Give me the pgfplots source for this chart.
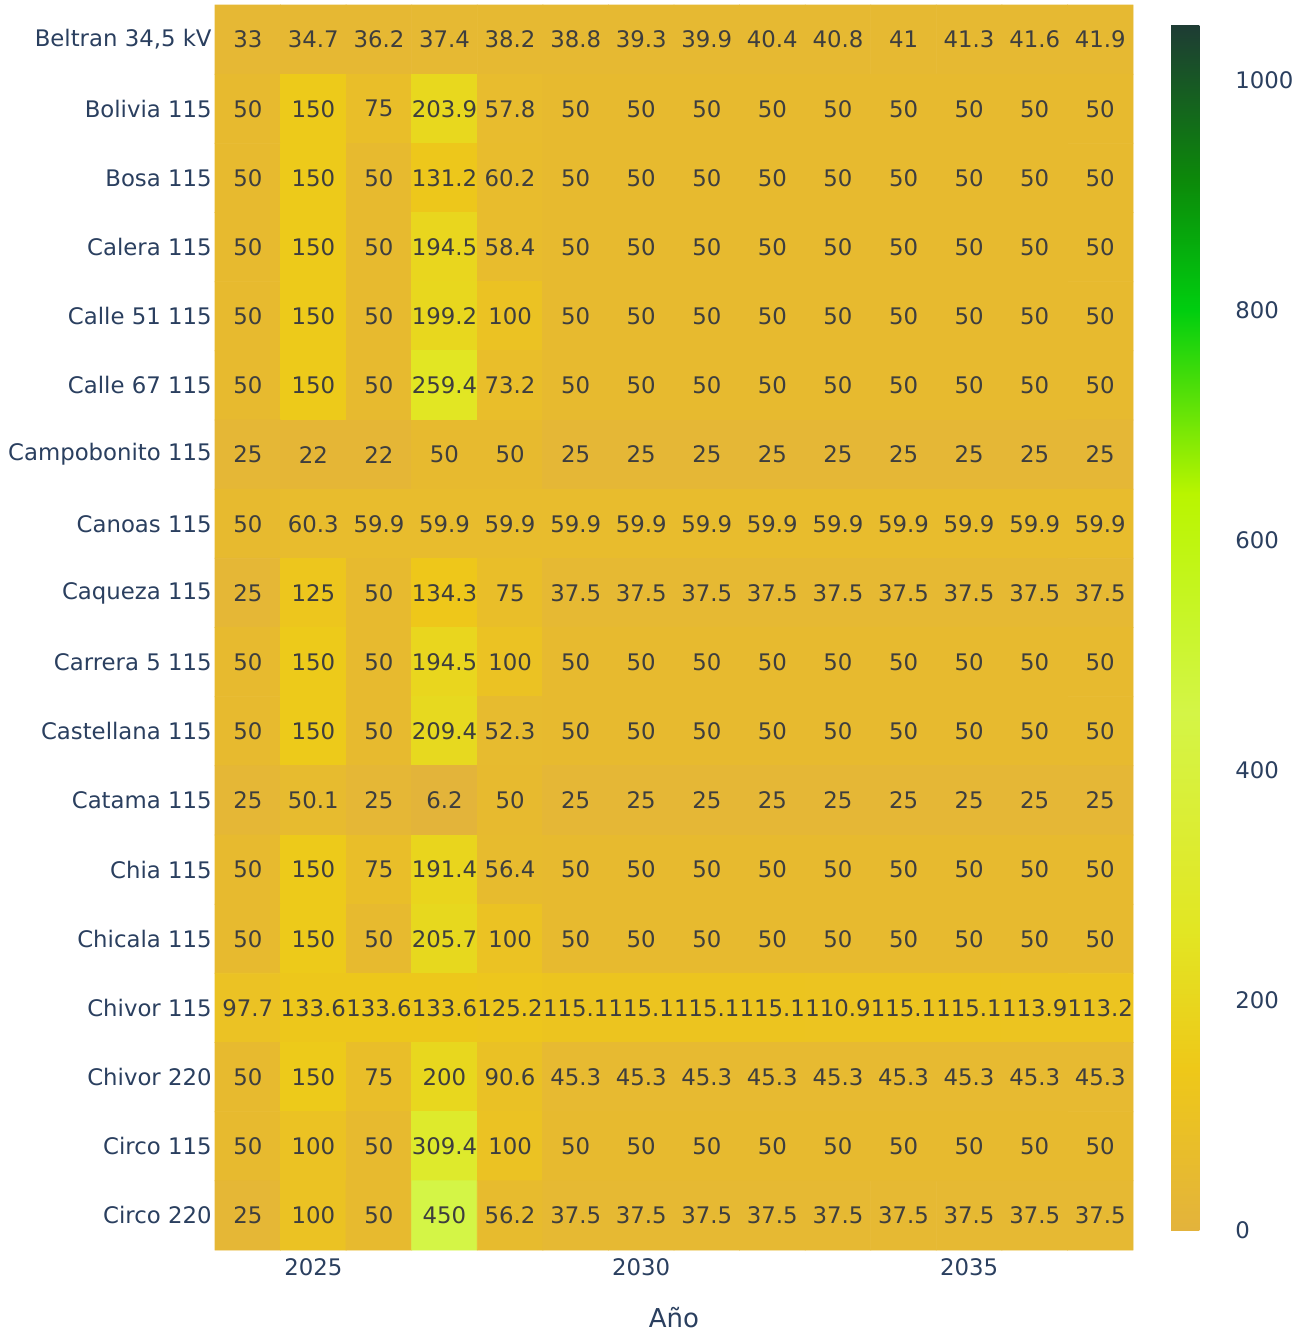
\documentclass[border=0pt]{standalone}
\usepackage{pgfplots}
\pgfplotsset{compat=1.18}
\usepackage{fontspec}
\setmainfont{DejaVu Sans}
\usetikzlibrary{calc}
\definecolor{tickc}{RGB}{42,63,95}
\definecolor{cellc}{RGB}{62,62,62}
\begin{document}
\begin{tikzpicture}
\path[use as bounding box] (0,0) rectangle (652.5bp,665.5bp);
\begin{axis}[
  at={(107.5bp,40.5bp)}, anchor=south west,
  scale only axis, width=459bp, height=622.5bp,
  xmin=-0.5, xmax=13.5, ymin=-0.5, ymax=17.5, y dir=reverse,
  axis line style={draw=none}, major tick length=0pt,
  xtick={1,6,11}, xticklabels={2025,2030,2035},
  ytick={0,...,17},
  yticklabels={Beltran 34{,}5 kV,Bolivia 115,Bosa 115,Calera 115,Calle 51 115,Calle 67 115,Campobonito 115,Canoas 115,Caqueza 115,Carrera 5 115,Castellana 115,Catama 115,Chia 115,Chicala 115,Chivor 115,Chivor 220,Circo 115,Circo 220},
  xticklabel style={anchor=base, inner sep=0pt, yshift=-12.5bp, font=\fontsize{11.4bp}{13bp}\selectfont, text=tickc},
  yticklabel style={anchor=east, inner sep=0pt, xshift=-1.5bp, font=\fontsize{11.4bp}{13bp}\selectfont, text=tickc},
  xlabel={Año},
  xlabel style={at={(axis description cs:0.5,0)}, anchor=base, inner sep=0pt, yshift=-38.5bp, font=\fontsize{13bp}{15bp}\selectfont, text=tickc},
  colormap={plotlyg}{rgb255(0pt)=(227,179,60); rgb255(140pt)=(238,200,25); rgb255(260pt)=(226,230,35); rgb255(450pt)=(212,245,70); rgb255(640pt)=(185,245,0); rgb255(800pt)=(0,206,15); rgb255(915pt)=(12,136,10); rgb255(1048pt)=(30,60,52)},
  point meta min=0, point meta max=1048,
  colorbar,
  colorbar style={
    at={($(parent axis.south east)+(10.5bp,10bp)$)}, anchor=south west,
    scale only axis, width=28bp, height=602.5bp,
    axis line style={draw=none}, major tick length=0pt,
    ytick={0,200,400,600,800,1000},
    yticklabel pos=right,
    yticklabel style={anchor=west, inner sep=0pt, xshift=4bp, font=\fontsize{11.4bp}{13bp}\selectfont, text=tickc},
    /pgf/number format/assume math mode=true,
    /pgf/number format/1000 sep={},
  },
  clip=false,
]
\addplot[matrix plot*, mesh/cols=14, point meta=explicit,
  nodes near coords={\pgfmathprintnumber[fixed,precision=1,assume math mode=true]{\pgfplotspointmeta}},
  every node near coord/.append style={anchor=center, inner sep=0pt, font=\fontsize{11.4bp}{13bp}\selectfont, text=cellc}]
coordinates {
(0,0)[33] (1,0)[34.7] (2,0)[36.2] (3,0)[37.4] (4,0)[38.2] (5,0)[38.8] (6,0)[39.3] (7,0)[39.9] (8,0)[40.4] (9,0)[40.8] (10,0)[41] (11,0)[41.3] (12,0)[41.6] (13,0)[41.9]
(0,1)[50] (1,1)[150] (2,1)[75] (3,1)[203.9] (4,1)[57.8] (5,1)[50] (6,1)[50] (7,1)[50] (8,1)[50] (9,1)[50] (10,1)[50] (11,1)[50] (12,1)[50] (13,1)[50]
(0,2)[50] (1,2)[150] (2,2)[50] (3,2)[131.2] (4,2)[60.2] (5,2)[50] (6,2)[50] (7,2)[50] (8,2)[50] (9,2)[50] (10,2)[50] (11,2)[50] (12,2)[50] (13,2)[50]
(0,3)[50] (1,3)[150] (2,3)[50] (3,3)[194.5] (4,3)[58.4] (5,3)[50] (6,3)[50] (7,3)[50] (8,3)[50] (9,3)[50] (10,3)[50] (11,3)[50] (12,3)[50] (13,3)[50]
(0,4)[50] (1,4)[150] (2,4)[50] (3,4)[199.2] (4,4)[100] (5,4)[50] (6,4)[50] (7,4)[50] (8,4)[50] (9,4)[50] (10,4)[50] (11,4)[50] (12,4)[50] (13,4)[50]
(0,5)[50] (1,5)[150] (2,5)[50] (3,5)[259.4] (4,5)[73.2] (5,5)[50] (6,5)[50] (7,5)[50] (8,5)[50] (9,5)[50] (10,5)[50] (11,5)[50] (12,5)[50] (13,5)[50]
(0,6)[25] (1,6)[22] (2,6)[22] (3,6)[50] (4,6)[50] (5,6)[25] (6,6)[25] (7,6)[25] (8,6)[25] (9,6)[25] (10,6)[25] (11,6)[25] (12,6)[25] (13,6)[25]
(0,7)[50] (1,7)[60.3] (2,7)[59.9] (3,7)[59.9] (4,7)[59.9] (5,7)[59.9] (6,7)[59.9] (7,7)[59.9] (8,7)[59.9] (9,7)[59.9] (10,7)[59.9] (11,7)[59.9] (12,7)[59.9] (13,7)[59.9]
(0,8)[25] (1,8)[125] (2,8)[50] (3,8)[134.3] (4,8)[75] (5,8)[37.5] (6,8)[37.5] (7,8)[37.5] (8,8)[37.5] (9,8)[37.5] (10,8)[37.5] (11,8)[37.5] (12,8)[37.5] (13,8)[37.5]
(0,9)[50] (1,9)[150] (2,9)[50] (3,9)[194.5] (4,9)[100] (5,9)[50] (6,9)[50] (7,9)[50] (8,9)[50] (9,9)[50] (10,9)[50] (11,9)[50] (12,9)[50] (13,9)[50]
(0,10)[50] (1,10)[150] (2,10)[50] (3,10)[209.4] (4,10)[52.3] (5,10)[50] (6,10)[50] (7,10)[50] (8,10)[50] (9,10)[50] (10,10)[50] (11,10)[50] (12,10)[50] (13,10)[50]
(0,11)[25] (1,11)[50.1] (2,11)[25] (3,11)[6.2] (4,11)[50] (5,11)[25] (6,11)[25] (7,11)[25] (8,11)[25] (9,11)[25] (10,11)[25] (11,11)[25] (12,11)[25] (13,11)[25]
(0,12)[50] (1,12)[150] (2,12)[75] (3,12)[191.4] (4,12)[56.4] (5,12)[50] (6,12)[50] (7,12)[50] (8,12)[50] (9,12)[50] (10,12)[50] (11,12)[50] (12,12)[50] (13,12)[50]
(0,13)[50] (1,13)[150] (2,13)[50] (3,13)[205.7] (4,13)[100] (5,13)[50] (6,13)[50] (7,13)[50] (8,13)[50] (9,13)[50] (10,13)[50] (11,13)[50] (12,13)[50] (13,13)[50]
(0,14)[97.7] (1,14)[133.6] (2,14)[133.6] (3,14)[133.6] (4,14)[125.2] (5,14)[115.1] (6,14)[115.1] (7,14)[115.1] (8,14)[115.1] (9,14)[110.9] (10,14)[115.1] (11,14)[115.1] (12,14)[113.9] (13,14)[113.2]
(0,15)[50] (1,15)[150] (2,15)[75] (3,15)[200] (4,15)[90.6] (5,15)[45.3] (6,15)[45.3] (7,15)[45.3] (8,15)[45.3] (9,15)[45.3] (10,15)[45.3] (11,15)[45.3] (12,15)[45.3] (13,15)[45.3]
(0,16)[50] (1,16)[100] (2,16)[50] (3,16)[309.4] (4,16)[100] (5,16)[50] (6,16)[50] (7,16)[50] (8,16)[50] (9,16)[50] (10,16)[50] (11,16)[50] (12,16)[50] (13,16)[50]
(0,17)[25] (1,17)[100] (2,17)[50] (3,17)[450] (4,17)[56.2] (5,17)[37.5] (6,17)[37.5] (7,17)[37.5] (8,17)[37.5] (9,17)[37.5] (10,17)[37.5] (11,17)[37.5] (12,17)[37.5] (13,17)[37.5]
};
\end{axis}
\end{tikzpicture}
\end{document}
